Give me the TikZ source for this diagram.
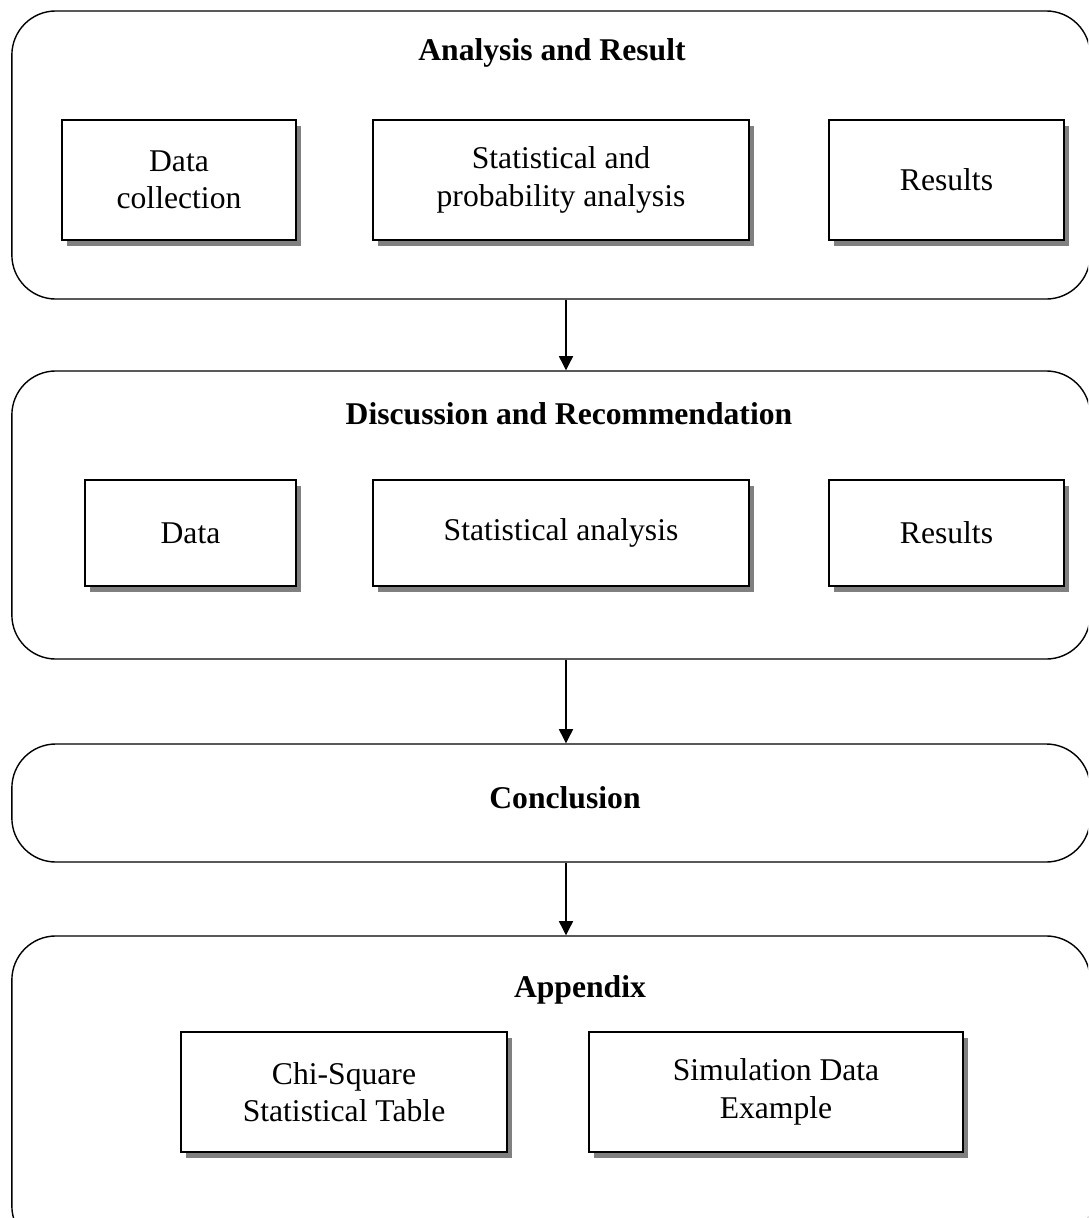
\documentclass[tikz,border=0pt]{standalone}
\usepackage{fontspec}
\setmainfont{Liberation Serif}
\usepackage{xcolor}
\usetikzlibrary{arrows.meta,shadows}
\definecolor{shade}{HTML}{808080}

\begin{document}
\begin{tikzpicture}[x=0.025cm,y=-0.025cm,>={Triangle[length=10pt,width=10pt]},
  panel/.style={draw,line width=1pt,rounded corners=1.1cm,inner sep=0pt,minimum width=26.95cm},
  stepbox/.style={draw,line width=0.9pt,fill=white,align=center,inner sep=0pt,
                  font=\fontsize{22.5}{26.5}\selectfont,
                  drop shadow={shadow xshift=0.13cm,shadow yshift=-0.15cm,fill=shade,opacity=1}},
  head/.style={font=\fontsize{22.5}{26.5}\selectfont\bfseries,inner sep=0pt}]

\useasboundingbox (0,0) rectangle (1088,1218);
\clip (0,0) rectangle (1088,1218);

% outer panels
\node[panel,minimum height=7.2cm]  (p1) at (551,155) {};
\node[panel,minimum height=7.2cm]  (p2) at (551,515) {};
\node[panel,minimum height=2.95cm] (p3) at (551,803) {};
\node[panel,minimum height=7.85cm] (p4) at (551,1093) {};

\node[head] (h1) at (552,53)   {Analysis and Result};
\node[head] (h2) at (569,414)  {Discussion and Recommendation};
\node[head] (h3) at (565,798)  {Conclusion};
\node[head] (h4) at (580,990)  {Appendix};

% analysis and result
\node[stepbox,minimum width=5.85cm,minimum height=3cm]  (collect) at (179,180)   {Data\\ collection};
\node[stepbox,minimum width=9.4cm,minimum height=3cm]   (prob)    at (561,180)   {Statistical and\\ probability analysis};
\node[stepbox,minimum width=5.875cm,minimum height=3cm] (res1)    at (946.5,180) {Results};

% discussion and recommendation
\node[stepbox,minimum width=5.275cm,minimum height=2.65cm] (data)  at (190.5,533) {Data};
\node[stepbox,minimum width=9.4cm,minimum height=2.65cm]   (stat)  at (561,533)   {Statistical analysis};
\node[stepbox,minimum width=5.875cm,minimum height=2.65cm] (res2)  at (946.5,533) {Results};

% appendix
\node[stepbox,minimum width=8.15cm,minimum height=3cm] (chi) at (344,1092) {Chi-Square\\ Statistical Table};
\node[stepbox,minimum width=9.35cm,minimum height=3cm] (sim) at (776,1092) {Simulation Data\\ Example};

\coordinate (ax) at (566,0);
\draw[->,line width=0.9pt] (p1.south -| ax) -- (p2.north -| ax);
\draw[->,line width=0.9pt] (p2.south -| ax) -- (p3.north -| ax);
\draw[->,line width=0.9pt] (p3.south -| ax) -- (p4.north -| ax);
\end{tikzpicture}
\end{document}
